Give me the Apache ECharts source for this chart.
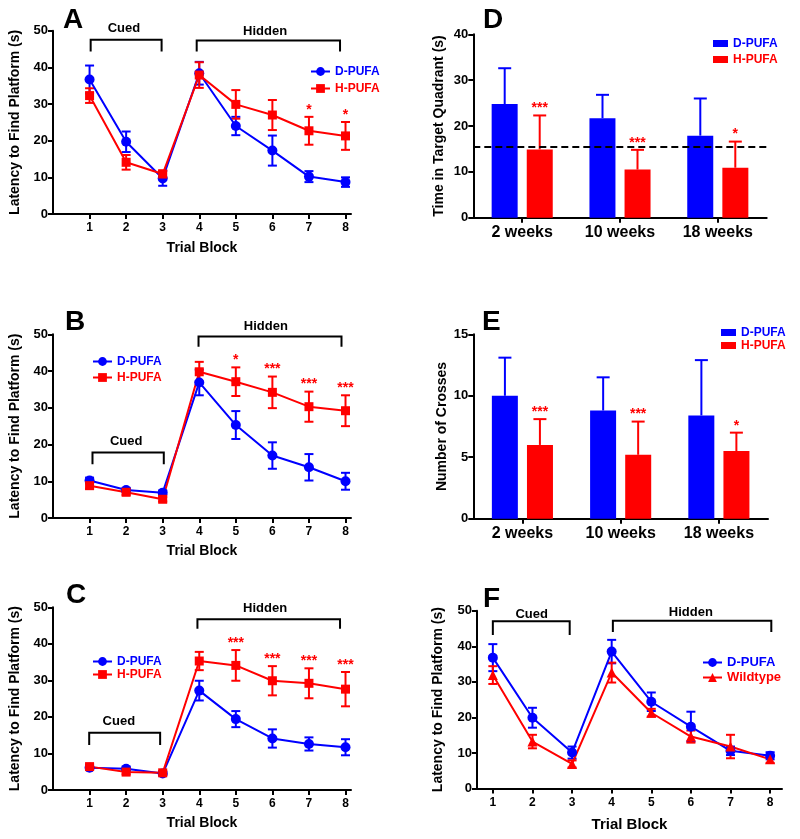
<!DOCTYPE html>
<html>
<head>
<meta charset="utf-8">
<script src="https://cdn.jsdelivr.net/npm/echarts@6/dist/echarts.min.js"></script>
<style>
html,body{margin:0;padding:0;background:#fff;}
#chart{width:800px;height:839px;}
</style>
</head>
<body>
<div id="chart"></div>
<script>
// ---------- data ----------
const trialBlocks = [1, 2, 3, 4, 5, 6, 7, 8];
const weekLabels = ['2 weeks', '10 weeks', '18 weeks'];

// Panel A
const aDpufa = [36.7, 19.7, 9.7, 38.4, 24.0, 17.3, 10.2, 8.7];
const aDpufaErr = [3.8, 2.8, 2.0, 3.1, 2.5, 4.1, 1.5, 1.3];
const aHpufa = [32.3, 14.1, 10.9, 37.9, 29.9, 27.0, 22.7, 21.3];
const aHpufaErr = [2.0, 2.0, 1.0, 3.5, 3.9, 4.1, 3.8, 3.8];
const aStars = ['', '', '', '', '', '', '*', '*'];

// Panel B
const bDpufa = [10.2, 7.6, 6.9, 36.9, 25.3, 17.0, 13.8, 10.0];
const bDpufaErr = [0.8, 0.6, 0.6, 3.5, 3.8, 3.6, 3.6, 2.3];
const bHpufa = [8.8, 7.0, 5.1, 39.8, 37.1, 34.2, 30.3, 29.2];
const bHpufaErr = [0.8, 0.7, 0.6, 2.7, 3.9, 4.3, 4.1, 4.2];
const bStars = ['', '', '', '', '*', '***', '***', '***'];

// Panel C
const cDpufa = [6.1, 5.8, 4.5, 27.2, 19.4, 14.1, 12.6, 11.7];
const cDpufaErr = [0.6, 0.6, 0.5, 2.7, 2.2, 2.5, 1.8, 2.2];
const cHpufa = [6.4, 4.9, 4.7, 35.3, 34.1, 29.9, 29.2, 27.6];
const cHpufaErr = [0.6, 0.6, 0.5, 2.5, 4.2, 4.0, 4.1, 4.7];
const cStars = ['', '', '', '', '***', '***', '***', '***'];

// Panel D
const dDpufa = [24.8, 21.7, 17.9];
const dDpufaErr = [7.8, 5.1, 8.1];
const dHpufa = [14.9, 10.5, 10.9];
const dHpufaErr = [7.4, 4.3, 5.7];
const dStars = ['***', '***', '*'];
const dChanceLevel = 15.5;

// Panel E
const eDpufa = [10.0, 8.8, 8.4];
const eDpufaErr = [3.1, 2.7, 4.5];
const eHpufa = [6.0, 5.2, 5.5];
const eHpufaErr = [2.1, 2.7, 1.5];
const eStars = ['***', '***', '*'];

// Panel F
const fDpufa = [36.8, 19.9, 10.1, 38.5, 24.4, 17.4, 10.6, 9.2];
const fDpufaErr = [3.8, 2.8, 1.7, 3.3, 2.6, 4.2, 1.2, 1.0];
const fWild = [31.9, 13.2, 6.9, 32.6, 21.3, 14.6, 11.8, 8.2];
const fWildErr = [2.5, 1.9, 1.0, 2.8, 1.1, 1.7, 3.3, 1.0];

// Brackets (data units): from, to, top, leg end, label x, label y
const aBrackets = [[1.03, 2.97, 47.5, 44.3, 1.94, 50.6], [3.93, 7.85, 47.3, 44.3, 5.8, 49.9]];
const bBrackets = [[1.08, 3.03, 17.8, 14.6, 2.0, 20.8], [3.98, 7.89, 49.4, 46.6, 5.82, 52.1]];
const cBrackets = [[0.99, 2.93, 15.7, 12.3, 1.8, 18.7], [3.95, 7.85, 46.7, 44.1, 5.8, 49.7]];
const fBrackets = [[1.0, 2.94, 47.0, 43.2, 1.98, 49.0], [4.03, 8.03, 47.2, 44.0, 6.0, 49.5]];
const bracketLabels = ['Cued', 'Hidden'];

// ---------- style ----------
const FONT = 'Liberation Sans, Arial, sans-serif';
const BLUE = '#0000ff';
const RED = '#ff0000';

const chart = echarts.init(document.getElementById('chart'), null, {renderer: 'canvas'});

const grids = [
  {left: 53, top: 30.7, width: 298, height: 183.3},   // A
  {left: 53, top: 334.3, width: 298, height: 183.7},  // B
  {left: 53, top: 607.3, width: 298, height: 182.7},  // C
  {left: 473.3, top: 34.3, width: 293.4, height: 183.4}, // D
  {left: 473.3, top: 334.3, width: 294.7, height: 184.4}, // E
  {left: 477, top: 610.7, width: 305, height: 177.8}  // F
];

const axisLineStyle = {show: true, lineStyle: {color: '#000', width: 2}};
const tickStyle = {show: true, length: 5, lineStyle: {color: '#000', width: 2}};
const labelStyle = {color: '#000', fontWeight: 'bold', fontFamily: FONT, fontSize: 12};
const nameStyle = {color: '#000', fontWeight: 'bold', fontFamily: FONT, fontSize: 14};

function trialX(gi, min, max, gap, nameSize) {
  return {
    type: 'value', gridIndex: gi, min: min, max: max,
    axisLine: axisLineStyle,
    axisTick: Object.assign({customValues: trialBlocks}, tickStyle),
    axisLabel: Object.assign({customValues: trialBlocks, margin: 8}, labelStyle),
    splitLine: {show: false},
    name: 'Trial Block', nameLocation: 'middle', nameGap: gap,
    nameTextStyle: Object.assign({}, nameStyle, {fontSize: nameSize})
  };
}
function weekX(gi) {
  return {
    type: 'category', gridIndex: gi, data: weekLabels,
    axisLine: axisLineStyle,
    axisTick: Object.assign({alignWithLabel: true}, tickStyle),
    axisLabel: Object.assign({}, labelStyle, {fontSize: 16, margin: 7}),
    splitLine: {show: false}
  };
}
function valY(gi, max, interval, name, gap) {
  return {
    type: 'value', gridIndex: gi, min: 0, max: max, interval: interval,
    axisLine: axisLineStyle, axisTick: tickStyle,
    axisLabel: Object.assign({margin: 5}, labelStyle, {fontSize: 13}),
    splitLine: {show: false},
    name: name, nameLocation: 'middle', nameGap: gap, nameTextStyle: nameStyle
  };
}

function pairs(xs, ys) { return xs.map((x, i) => [x, ys[i]]); }
function triples(xs, ys, es) { return xs.map((x, i) => [x, ys[i], es[i]]); }

function lineSeries(name, gi, ys, color, symbol, size) {
  return {
    type: 'line', name: name, xAxisIndex: gi, yAxisIndex: gi,
    data: pairs(trialBlocks, ys),
    symbol: symbol, symbolSize: size,
    lineStyle: {color: color, width: 2},
    itemStyle: {color: color},
    z: 3
  };
}

// error bars (symmetric) for line panels
function errSeries(gi, ys, es, color, cap) {
  return {
    type: 'custom', xAxisIndex: gi, yAxisIndex: gi, z: 2,
    data: triples(trialBlocks, ys, es),
    silent: true,
    renderItem: function (params, api) {
      const x = api.value(0), y = api.value(1), e = api.value(2);
      const t = api.coord([x, y + e]);
      const b = api.coord([x, y - e]);
      const st = {stroke: color, lineWidth: 2};
      return {type: 'group', children: [
        {type: 'line', shape: {x1: t[0], y1: t[1], x2: b[0], y2: b[1]}, style: st},
        {type: 'line', shape: {x1: t[0] - cap / 2, y1: t[1], x2: t[0] + cap / 2, y2: t[1]}, style: st},
        {type: 'line', shape: {x1: b[0] - cap / 2, y1: b[1], x2: b[0] + cap / 2, y2: b[1]}, style: st}
      ]};
    }
  };
}

// significance stars above error bars
function starSeries(gi, xs, ys, es, stars, dx) {
  return {
    type: 'custom', xAxisIndex: gi, yAxisIndex: gi, z: 4, silent: true,
    data: triples(xs, ys, es),
    renderItem: function (params, api) {
      const s = stars[params.dataIndex];
      if (!s) return null;
      const p = api.coord([api.value(0), api.value(1) + api.value(2)]);
      return {type: 'text', style: {
        text: s, x: p[0] + dx, y: p[1] - 7,
        fill: RED, font: 'bold 14px ' + FONT,
        align: 'center', verticalAlign: 'middle'
      }};
    }
  };
}

// upper-only error bars for bar panels
function barErrSeries(gi, ys, es, color, dx) {
  return {
    type: 'custom', xAxisIndex: gi, yAxisIndex: gi, z: 1, silent: true,
    data: ys.map((y, i) => [i, y, es[i]]),
    renderItem: function (params, api) {
      const x = api.value(0), y = api.value(1), e = api.value(2);
      const t = api.coord([x, y + e]);
      const b = api.coord([x, y]);
      const st = {stroke: color, lineWidth: 2};
      return {type: 'group', children: [
        {type: 'line', shape: {x1: t[0] + dx, y1: t[1], x2: b[0] + dx, y2: b[1]}, style: st},
        {type: 'line', shape: {x1: t[0] + dx - 6.5, y1: t[1], x2: t[0] + dx + 6.5, y2: t[1]}, style: st}
      ]};
    }
  };
}

function barSeries(name, gi, ys, color) {
  return {
    type: 'bar', name: name, xAxisIndex: gi, yAxisIndex: gi,
    data: ys, barWidth: 26, barGap: '35%',
    itemStyle: {color: color}, z: 2
  };
}

function bracketSeries(gi, br) {
  return {
    type: 'custom', xAxisIndex: gi, yAxisIndex: gi, z: 5, silent: true,
    data: br,
    renderItem: function (params, api) {
      const from = api.value(0), to = api.value(1), top = api.value(2), leg = api.value(3);
      const p1 = api.coord([from, leg]), p2 = api.coord([from, top]);
      const p3 = api.coord([to, top]), p4 = api.coord([to, leg]);
      const tp = api.coord([api.value(4), api.value(5)]);
      return {type: 'group', children: [
        {type: 'polyline', shape: {points: [p1, p2, p3, p4]}, style: {stroke: '#000', lineWidth: 2, fill: null}},
        {type: 'text', style: {text: bracketLabels[params.dataIndex], x: tp[0], y: tp[1],
          fill: '#000', font: 'bold 13px ' + FONT, align: 'center', verticalAlign: 'middle'}}
      ]};
    }
  };
}

function lineLegend(left, top, names, colors, gap, size) {
  return {
    orient: 'vertical', left: left, top: top,
    itemWidth: 19, itemHeight: 11, itemGap: gap,
    selectedMode: false,
    data: names.map((n, i) => ({name: n, textStyle: {color: colors[i]}})),
    textStyle: {fontWeight: 'bold', fontFamily: FONT, fontSize: size, lineHeight: 13}
  };
}
function barLegend(left, top, gap) {
  return {
    orient: 'vertical', left: left, top: top,
    itemWidth: 15, itemHeight: 7, itemGap: gap,
    selectedMode: false,
    data: [
      {name: 'D-PUFA', icon: 'rect', itemStyle: {color: BLUE}, textStyle: {color: BLUE}},
      {name: 'H-PUFA', icon: 'rect', itemStyle: {color: RED}, textStyle: {color: RED}}
    ],
    textStyle: {fontWeight: 'bold', fontFamily: FONT, fontSize: 12, lineHeight: 13}
  };
}

function letter(text, left, top) {
  return {text: text, left: left, top: top, padding: 0,
    textStyle: {fontSize: 28, fontWeight: 'bold', fontFamily: FONT, color: '#000'}};
}

const option = {
  backgroundColor: '#fff',
  animation: false,
  title: [
    letter('A', 63, 6), letter('B', 65, 308), letter('C', 66, 581),
    letter('D', 483, 6), letter('E', 482, 308), letter('F', 483, 585)
  ],
  legend: [
    lineLegend(305, 60, ['D-PUFA', 'H-PUFA'], [BLUE, RED], 4, 12),
    lineLegend(87, 350, ['D-PUFA', 'H-PUFA'], [BLUE, RED], 3, 12),
    lineLegend(87, 650, ['D-PUFA', 'H-PUFA'], [BLUE, RED], 0, 12),
    barLegend(708, 32, 3),
    barLegend(716, 321, 0),
    lineLegend(697, 651, ['D-PUFA', 'Wildtype'], [BLUE, RED], 2, 13)
  ],
  grid: grids,
  xAxis: [
    trialX(0, 0, 8.15, 27, 14),
    trialX(1, 0, 8.15, 26, 14),
    trialX(2, 0, 8.15, 26, 14),
    weekX(3),
    weekX(4),
    trialX(5, 0.6, 8.3, 29, 15)
  ],
  yAxis: [
    valY(0, 50, 10, 'Latency to Find Platform (s)', 31),
    valY(1, 50, 10, 'Latency to Find Platform (s)', 31),
    valY(2, 50, 10, 'Latency to Find Platform (s)', 31),
    valY(3, 40, 10, 'Time in Target Quadrant (s)', 27),
    valY(4, 15, 5, 'Number of Crosses', 24),
    valY(5, 50, 10, 'Latency to Find Platform (s)', 32)
  ],
  series: [
    // A
    errSeries(0, aDpufa, aDpufaErr, BLUE, 9),
    errSeries(0, aHpufa, aHpufaErr, RED, 9),
    lineSeries('D-PUFA', 0, aDpufa, BLUE, 'circle', 10),
    lineSeries('H-PUFA', 0, aHpufa, RED, 'rect', 9),
    starSeries(0, trialBlocks, aHpufa, aHpufaErr, aStars, 0),
    bracketSeries(0, aBrackets),
    // B
    errSeries(1, bDpufa, bDpufaErr, BLUE, 9),
    errSeries(1, bHpufa, bHpufaErr, RED, 9),
    lineSeries('D-PUFA', 1, bDpufa, BLUE, 'circle', 10),
    lineSeries('H-PUFA', 1, bHpufa, RED, 'rect', 9),
    starSeries(1, trialBlocks, bHpufa, bHpufaErr, bStars, 0),
    bracketSeries(1, bBrackets),
    // C
    errSeries(2, cDpufa, cDpufaErr, BLUE, 9),
    errSeries(2, cHpufa, cHpufaErr, RED, 9),
    lineSeries('D-PUFA', 2, cDpufa, BLUE, 'circle', 10),
    lineSeries('H-PUFA', 2, cHpufa, RED, 'rect', 9),
    starSeries(2, trialBlocks, cHpufa, cHpufaErr, cStars, 0),
    bracketSeries(2, cBrackets),
    // D
    barErrSeries(3, dDpufa, dDpufaErr, BLUE, -17.5),
    barErrSeries(3, dHpufa, dHpufaErr, RED, 17.5),
    Object.assign(barSeries('D-PUFA', 3, dDpufa, BLUE), {
      markLine: {silent: true, symbol: 'none', label: {show: false},
        lineStyle: {color: '#000', width: 2, type: [7, 4]},
        data: [{yAxis: dChanceLevel}]}
    }),
    barSeries('H-PUFA', 3, dHpufa, RED),
    starSeries(3, [0, 1, 2], dHpufa, dHpufaErr, dStars, 17.5),
    // E
    barErrSeries(4, eDpufa, eDpufaErr, BLUE, -17.5),
    barErrSeries(4, eHpufa, eHpufaErr, RED, 17.5),
    barSeries('D-PUFA', 4, eDpufa, BLUE),
    barSeries('H-PUFA', 4, eHpufa, RED),
    starSeries(4, [0, 1, 2], eHpufa, eHpufaErr, eStars, 17.5),
    // F
    errSeries(5, fDpufa, fDpufaErr, BLUE, 9),
    errSeries(5, fWild, fWildErr, RED, 9),
    lineSeries('D-PUFA', 5, fDpufa, BLUE, 'circle', 10),
    lineSeries('Wildtype', 5, fWild, RED, 'triangle', 10),
    bracketSeries(5, fBrackets)
  ]
};
chart.setOption(option);
</script>
</body>
</html>
